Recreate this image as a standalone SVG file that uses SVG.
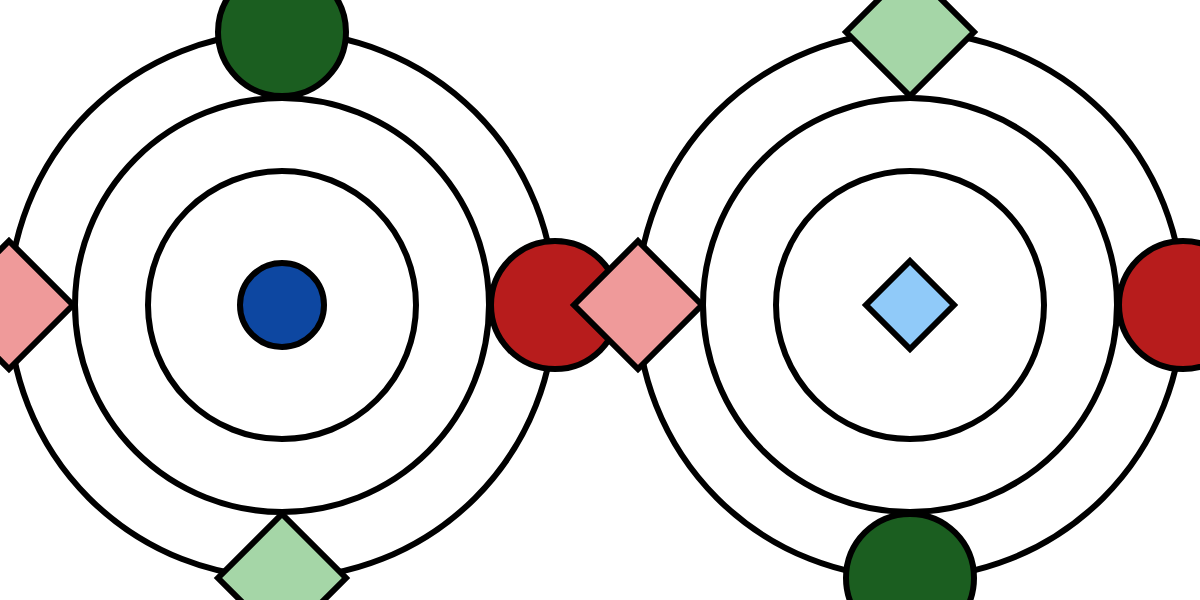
<svg xmlns="http://www.w3.org/2000/svg" width="1200" height="600" viewBox="0 0 1200 600">
<style>
.ring{fill:none;stroke:#000;stroke-width:6}
.n{stroke:#000;stroke-width:6;stroke-linejoin:miter}
.dg{fill:#1b5e20}.rd{fill:#b71c1c}.pk{fill:#ef9a9a}.lg{fill:#a5d6a7}.bl{fill:#0d47a1}.lb{fill:#90caf9}
</style>
<rect width="1200" height="600" fill="#fff"/>
<g id="connectors">
<circle class="ring" cx="282" cy="305" r="134"/>
<circle class="ring" cx="282" cy="305" r="207"/>
<circle class="ring" cx="282" cy="305" r="273"/>
<circle class="ring" cx="910" cy="305" r="134"/>
<circle class="ring" cx="910" cy="305" r="207"/>
<circle class="ring" cx="910" cy="305" r="273"/>
</g>
<g id="left-center"><circle class="n bl" cx="282" cy="305" r="42"/></g>
<g id="left-top"><circle class="n dg" cx="282" cy="32" r="64"/></g>
<g id="left-left"><polygon class="n pk" points="9,241 73,305 9,369 -55,305"/></g>
<g id="left-bottom"><polygon class="n lg" points="282,514 346,578 282,642 218,578"/></g>
<g id="left-right"><circle class="n rd" cx="555" cy="305" r="64"/></g>
<g id="right-center"><polygon class="n lb" points="910,261 954,305 910,349 866,305"/></g>
<g id="right-left"><polygon class="n pk" points="638,241 702,305 638,369 574,305"/></g>
<g id="right-top"><polygon class="n lg" points="910,-32 974,32 910,96 846,32"/></g>
<g id="right-right"><circle class="n rd" cx="1183" cy="305" r="64"/></g>
<g id="right-bottom"><circle class="n dg" cx="910" cy="578" r="64"/></g>
</svg>
